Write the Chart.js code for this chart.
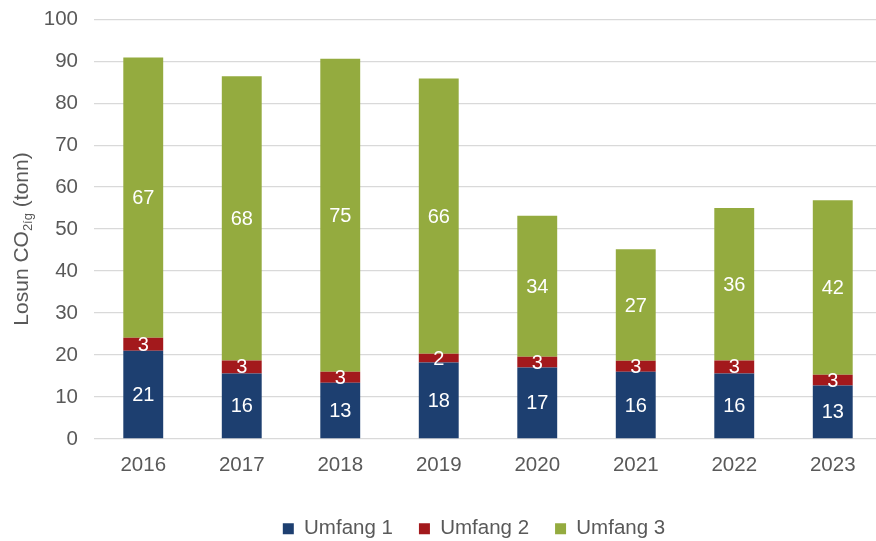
<!DOCTYPE html>
<html><head><meta charset="utf-8">
<script src="https://cdn.jsdelivr.net/npm/chart.js@4"></script>
<style>html,body{margin:0;padding:0;overflow:hidden;background:#fff}#wrap{width:884px;height:550px;margin-top:-9px}canvas{display:block}</style>
</head><body><div id="wrap"><canvas id="c" width="884" height="550"></canvas></div>
<script>
const years = ['2016','2017','2018','2019','2020','2021','2022','2023'];
const scope1 = [21.0, 15.6, 13.4, 18.2, 17.0, 16.0, 15.6, 12.7];
const scope2 = [3.1, 3.1, 2.6, 2.1, 2.6, 2.6, 3.1, 2.6];
const scope3 = [66.8, 67.7, 74.6, 65.6, 33.6, 26.6, 36.3, 41.6];
const seriesNames = ['Umfang 1', 'Umfang 2', 'Umfang 3'];
const yTicks = [0,10,20,30,40,50,60,70,80,90,100];

const FONT = "'Liberation Sans', Arial, sans-serif";
const GREY = '#595959';
const FS = 20.5;

const barLabels = {
  id: 'barLabels',
  afterDatasetsDraw(chart) {
    const ctx = chart.ctx;
    ctx.save();
    ctx.fillStyle = '#ffffff';
    ctx.font = '20px ' + FONT;
    ctx.textAlign = 'center';
    ctx.textBaseline = 'middle';
    chart.data.datasets.forEach((ds, i) => {
      const meta = chart.getDatasetMeta(i);
      meta.data.forEach((el, j) => {
        const v = Math.round(ds.data[j]);
        const y = (el.y + el.base) / 2 + 1;
        ctx.fillText(String(v), el.x, y);
      });
    });
    ctx.restore();
  }
};

const yTitle = {
  id: 'yTitle',
  afterDraw(chart) {
    const ctx = chart.ctx;
    ctx.save();
    ctx.fillStyle = GREY;
    ctx.textBaseline = 'middle';
    const big = '21px ' + FONT, small = '13px ' + FONT;
    const p1 = 'Losun CO', p2 = '2íg', p3 = ' (tonn)';
    ctx.font = big; const w1 = ctx.measureText(p1).width, w3 = ctx.measureText(p3).width;
    ctx.font = small; const w2 = ctx.measureText(p2).width;
    const total = w1 + w2 + w3;
    ctx.translate(22, 248);
    ctx.rotate(-Math.PI / 2);
    let x = -total / 2;
    ctx.textAlign = 'left';
    ctx.font = big; ctx.fillText(p1, x, 0); x += w1;
    ctx.font = small; ctx.fillText(p2, x, 6); x += w2;
    ctx.font = big; ctx.fillText(p3, x, 0);
    ctx.restore();
  }
};

const legendShift = {
  id: 'legendShift',
  afterLayout(chart) {
    const lg = chart.legend;
    if (lg) { lg.left += 33; lg.right += 33; lg.top += 9; lg.bottom += 9; }
  }
};

new Chart(document.getElementById('c'), {
  type: 'bar',
  data: {
    labels: years,
    datasets: [
      { label: seriesNames[0], data: scope1, backgroundColor: '#1d3f70' },
      { label: seriesNames[1], data: scope2, backgroundColor: '#a3191c' },
      { label: seriesNames[2], data: scope3, backgroundColor: '#94ab3f' }
    ]
  },
  options: {
    responsive: false,
    animation: false,
    devicePixelRatio: 1,
    datasets: { bar: { categoryPercentage: 1, barPercentage: 0.405, borderWidth: 0 } },
    layout: { padding: { top: -5, left: 0, right: 2, bottom: 1 } },
    plugins: {
      legend: {
        position: 'bottom',
        labels: { boxWidth: 11, boxHeight: 11, padding: 26, color: GREY, font: { size: FS, family: FONT } }
      },
      tooltip: { enabled: false }
    },
    scales: {
      x: {
        stacked: true,
        grid: { display: false },
        border: { display: false },
        ticks: { color: GREY, font: { size: FS, family: FONT }, padding: 6 }
      },
      y: {
        stacked: true,
        min: 0, max: 100,
        afterBuildTicks: s => { s.ticks = yTicks.map(v => ({ value: v })); },
        afterFit: s => { s.width = 94; },
        ticks: { color: GREY, font: { size: FS, family: FONT }, padding: 16 },
        grid: { color: '#d9d9d9', lineWidth: 1.3, drawTicks: false },
        border: { display: false }
      }
    }
  },
  plugins: [barLabels, yTitle, legendShift]
});
</script>
</body></html>
